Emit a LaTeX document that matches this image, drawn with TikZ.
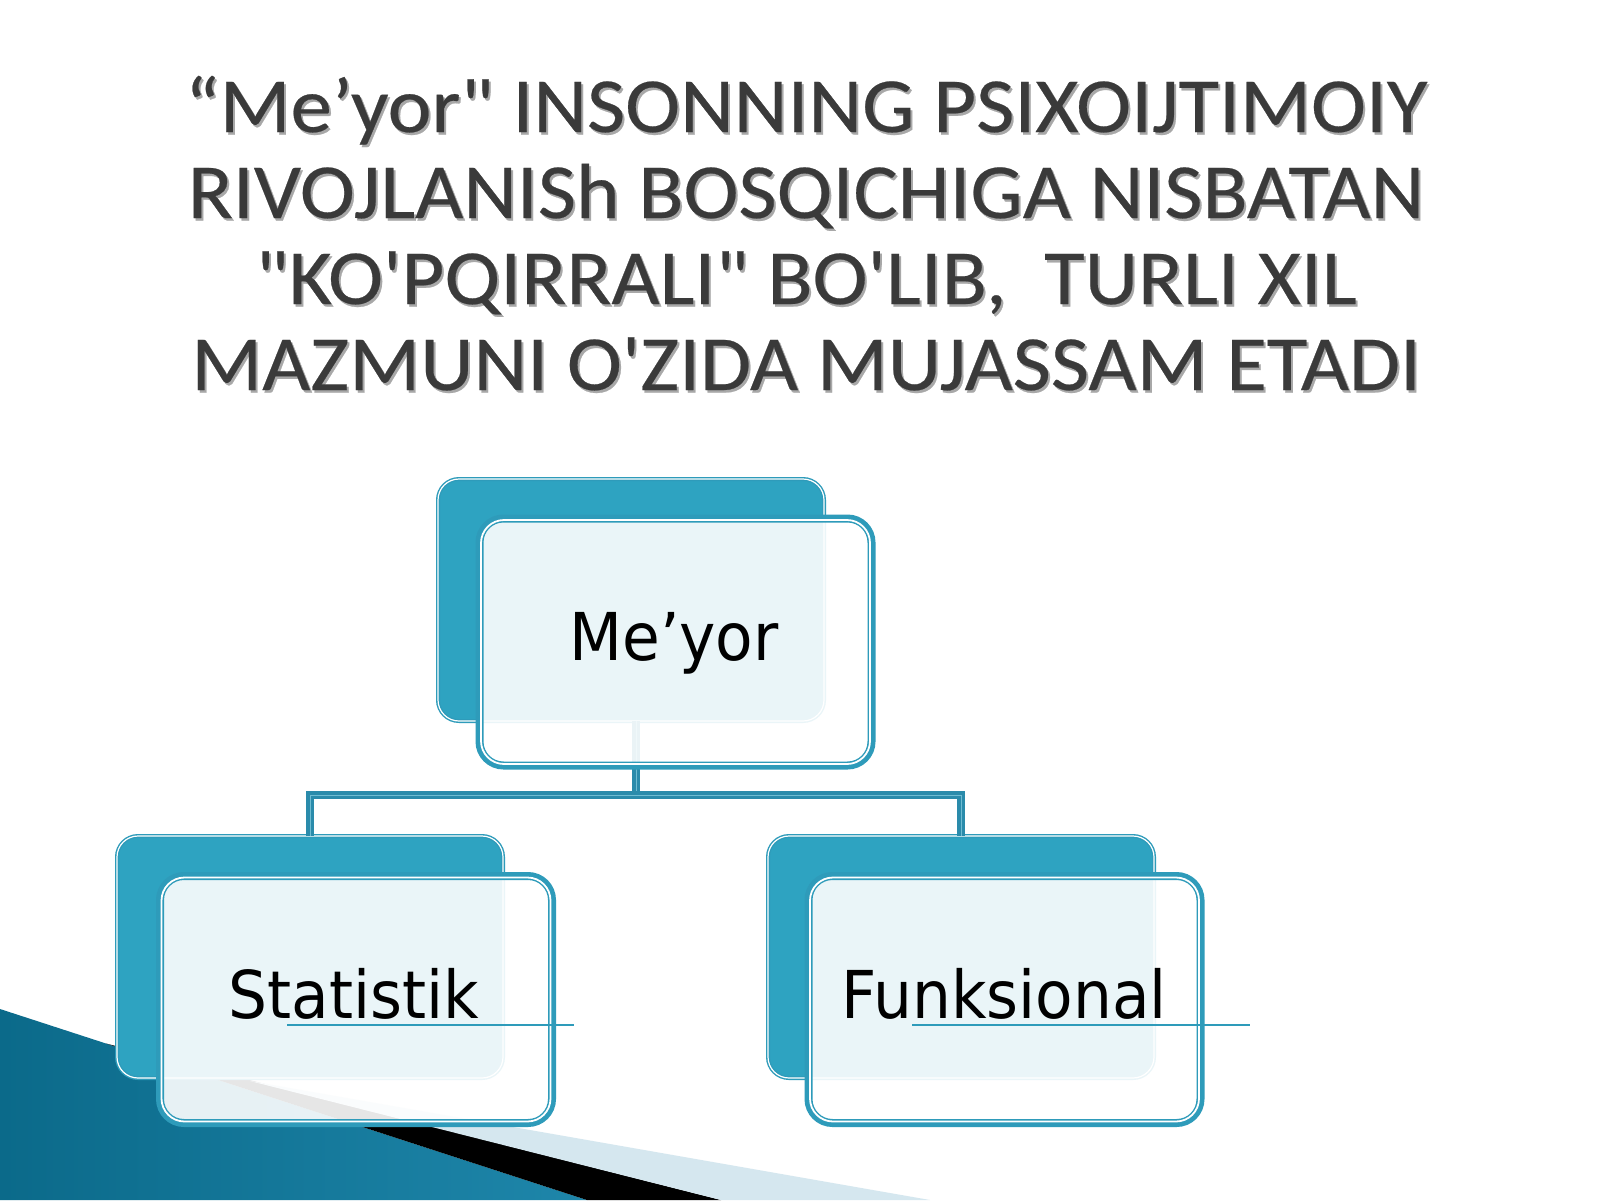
\documentclass[tikz,border=0pt]{standalone}
\usepackage{fontspec}
\newfontfamily\titlefont[FakeStretch=1.065,FakeBold=0.3]{Carlito}
\newfontfamily\labfont[FakeStretch=0.93]{DejaVu Sans}
\usetikzlibrary{calc}
\definecolor{tealA}{HTML}{2EA3C1}
\definecolor{tealB}{HTML}{2E9BBA}
\definecolor{tealC}{HTML}{2A8BAB}
\definecolor{tealLight}{HTML}{6FBCD2}
\definecolor{titlegray}{HTML}{3A3A3A}
\definecolor{shadowgray}{HTML}{A8A8A8}
\definecolor{bandlight}{HTML}{D5E7EF}
\definecolor{decoDark}{HTML}{0B6A8A}
\definecolor{decoMid}{HTML}{4AAFD5}
\definecolor{decoRight}{HTML}{1E86AA}
\tikzset{
  backbox/.style={rectangle, rounded corners=21pt, fill=tealA, draw=tealB,
    line width=1.4pt, double=white, double distance=1.2pt,
    minimum width=386pt, minimum height=242pt, inner sep=0pt, outer sep=0pt},
  frontbox/.style={rectangle, rounded corners=24pt, fill=white, fill opacity=0.9,
    draw=tealB, line width=8pt, minimum width=392pt, minimum height=247pt,
    inner sep=0pt, outer sep=0pt},
  innerline/.style={draw=white, line width=1.8pt, rounded corners=23pt},
  conn/.style={draw=tealC, line width=3.2pt, double=tealLight, double distance=0.8pt},
  uline/.style={draw=tealB, line width=1.3pt},
  lab/.style={font=\labfont\fontsize{66}{70}\selectfont, text=black, inner sep=0pt, anchor=base},
  tt/.style={font=\titlefont\fontsize{78}{86}\selectfont, text=titlegray, inner sep=0pt, anchor=base},
  ts/.style={tt, text=shadowgray}
}
\begin{document}
\begin{tikzpicture}[x=1pt,y=-1pt]
\useasboundingbox[fill=white] (0,0) rectangle (1600,1200);

% bottom-left decoration
\shade[left color=decoDark, middle color=decoMid, right color=decoRight]
  (0,1009) -- (587,1200) -- (0,1200) -- cycle;
\fill[black] (106,1043.5) -- (721,1200) -- (587,1200) -- cycle;
\fill[bandlight] (250,1081) -- (930,1200) -- (721,1200) -- cycle;

% title
\node[ts] (s1) at (808,134.5) {“Me’yor" INSONNING PSIXOIJTIMOIY};
\node[ts] (s2) at (808,220.5) {RIVOJLANISh BOSQICHIGA NISBATAN};
\node[ts] (s3) at (808,306.5) {"KO'PQIRRALI" BO'LIB,\ \ TURLI XIL};
\node[ts] (s4) at (808,392.5) {MAZMUNI O'ZIDA MUJASSAM ETADI};
\node[tt] (t1) at (806,132) {“Me’yor" INSONNING PSIXOIJTIMOIY};
\node[tt] (t2) at (806,218) {RIVOJLANISh BOSQICHIGA NISBATAN};
\node[tt] (t3) at (806,304) {"KO'PQIRRALI" BO'LIB,\ \ TURLI XIL};
\node[tt] (t4) at (806,390) {MAZMUNI O'ZIDA MUJASSAM ETADI};

% back boxes
\node[backbox] (mB) at (631,600) {};
\node[backbox] (sB) at (310,957) {};
\node[backbox] (fB) at (961,957) {};

% connectors
\coordinate (j) at (636,795);
\draw[conn] (j |- mB.south) -- (j);
\draw[conn] (sB.north) -- (sB.north |- j) -- (fB.north |- j) -- (fB.north);

% front boxes
\node[frontbox] (mF) at (675.5,642) {};
\node[frontbox] (sF) at (356,999.5) {};
\node[frontbox] (fF) at (1004.5,999.5) {};
\foreach \n in {mF,sF,fF}{
  \draw[innerline] ([shift={(1.5,1.5)}]\n.north west) rectangle ([shift={(-1.5,-1.5)}]\n.south east);
}

% underlines
\coordinate (u1a) at (287,1025);
\coordinate (u1b) at (574,1025);
\coordinate (u2a) at (912,1025);
\coordinate (u2b) at (1250,1025);
\draw[uline] (u1a) -- (u1b);
\draw[uline] (u2a) -- (u2b);

% labels
\node[lab] (tM) at (674,660) {Me’yor};
\node[lab] (tS) at (354,1018) {Statistik};
\node[lab] (tF) at (1004,1018) {Funksional};
\end{tikzpicture}
\end{document}
